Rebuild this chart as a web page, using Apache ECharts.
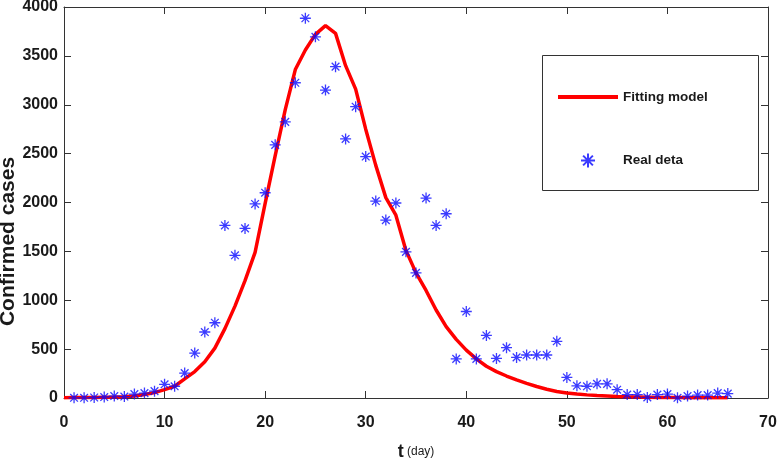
<!DOCTYPE html>
<html><head><meta charset="utf-8">
<script src="https://cdn.jsdelivr.net/npm/echarts@6/dist/echarts.min.js"></script>
<style>html,body{margin:0;padding:0;background:#fff}#c{width:777px;height:461px}</style>
</head><body><div id="c"></div>
<script>
// Fitting model, t = 0..66
const fitDays = [0,1,2,3,4,5,6,7,8,9,10,11,12,13,14,15,16,17,18,19,20,21,22,23,24,25,26,27,28,29,30,31,32,33,34,35,36,37,38,39,40,41,42,43,44,45,46,47,48,49,50,51,52,53,54,55,56,57,58,59,60,61,62,63,64,65,66];
const fitValues = [3,4,5,6,8,10,14,20,35,55,85,120,195,270,370,510,710,940,1200,1490,1990,2480,2950,3360,3560,3720,3810,3730,3400,3160,2750,2380,2050,1870,1510,1280,1100,900,730,600,490,400,325,270,225,185,150,118,90,67,52,41,32,25,20,15,12,10,8,6,5,4,3,3,2,2,2];
// Real data, t = 1..66
const realDays = [1,2,3,4,5,6,7,8,9,10,11,12,13,14,15,16,17,18,19,20,21,22,23,24,25,26,27,28,29,30,31,32,33,34,35,36,37,38,39,40,41,42,43,44,45,46,47,48,49,50,51,52,53,54,55,56,57,58,59,60,61,62,63,64,65,66];
const realValues = [2,2,5,10,20,15,40,50,70,140,120,255,460,675,770,1765,1460,1735,1985,2100,2590,2825,3225,3885,3695,3150,3390,2650,2980,2470,2015,1820,1995,1495,1280,2045,1765,1885,400,885,400,640,405,515,415,440,440,440,580,210,125,120,145,145,85,35,35,6,35,40,2,20,30,30,50,45];
const xTicks = [0,10,20,30,40,50,60,70];
const yTicks = [0,500,1000,1500,2000,2500,3000,3500,4000];

const starPath = 'path://M5,0L5,10M0,5L10,5M1.5,1.5L8.5,8.5M1.5,8.5L8.5,1.5';
const axisColor = '#333';
const labelFont = {fontFamily:'Liberation Sans Narrow, Liberation Sans, Arial', fontWeight:'bold', fontSize:16, color:'#1a1a1a'};

const chart = echarts.init(document.getElementById('c'), null, {renderer:'canvas'});
chart.setOption({
  animation:false,
  backgroundColor:'#fff',
  grid:{left:64, right:9, top:7, bottom:63, containLabel:false, outerBoundsMode:'none'},
  xAxis:[{
    type:'value', min:xTicks[0], max:xTicks[xTicks.length-1], interval:10, position:'bottom',
    axisLine:{show:true, onZero:false, lineStyle:{color:axisColor, width:1}},
    axisTick:{show:true, inside:true, length:7, lineStyle:{color:axisColor}},
    splitLine:{show:false},
    axisLabel:Object.assign({margin:17, formatter:v=>String(v)}, labelFont),
    name:'{t|t} {d|(day)}', nameLocation:'middle', nameGap:45, nameMoveOverlap:false,
    nameTextStyle:{rich:{
      t:{fontFamily:'Liberation Sans', fontWeight:'bold', fontSize:18, color:'#1a1a1a'},
      d:{fontFamily:'Liberation Sans Narrow, Liberation Sans', fontWeight:'normal', fontSize:12, color:'#1a1a1a'}
    }}
  },{
    type:'value', min:0, max:70, interval:10, position:'top',
    axisLine:{show:true, onZero:false, lineStyle:{color:axisColor, width:1}},
    axisTick:{show:true, inside:true, length:7, lineStyle:{color:axisColor}},
    axisLabel:{show:false}, splitLine:{show:false}
  }],
  yAxis:[{
    type:'value', min:yTicks[0], max:yTicks[yTicks.length-1], interval:500, position:'left',
    axisLine:{show:true, onZero:false, lineStyle:{color:axisColor, width:1}},
    axisTick:{show:true, inside:true, length:7, lineStyle:{color:axisColor}},
    splitLine:{show:false},
    axisLabel:Object.assign({margin:6, formatter:v=>String(v)}, labelFont),
    name:'Confirmed cases', nameLocation:'middle', nameGap:45, nameRotate:90, nameMoveOverlap:false,
    nameTextStyle:{fontFamily:'Liberation Sans', fontWeight:'bold', fontSize:21, color:'#1a1a1a', padding:[0,78,0,0]}
  },{
    type:'value', min:0, max:4000, interval:500, position:'right',
    axisLine:{show:true, onZero:false, lineStyle:{color:axisColor, width:1}},
    axisTick:{show:true, inside:true, length:7, lineStyle:{color:axisColor}},
    axisLabel:{show:false}, splitLine:{show:false}
  }],
  legend:{
    orient:'vertical', left:553, top:85, itemWidth:60, itemHeight:14, itemGap:47,
    data:[{name:'Fitting model', icon:'path://M0,0H60V4H0Z'},{name:'Real deta'}],
    textStyle:{fontFamily:'Liberation Sans Narrow, Liberation Sans', fontWeight:'bold', fontSize:13.5, color:'#1a1a1a'}
  },
  graphic:[{type:'rect', shape:{x:542.5, y:55.5, width:216, height:135}, style:{fill:'#fff', stroke:'#333', lineWidth:1}, z:-1}],
  series:[{
    name:'Fitting model', type:'line', xAxisIndex:0, yAxisIndex:0, symbol:'none',
    lineStyle:{color:'#ff0000', width:3.5}, itemStyle:{color:'#ff0000'},
    data:fitDays.map((d,i)=>[d, fitValues[i]]), z:2
  },{
    name:'Real deta', type:'scatter', xAxisIndex:0, yAxisIndex:0, symbol:starPath, symbolSize:11,
    itemStyle:{color:'none', borderColor:'#0a0aff', borderWidth:1.3},
    data:realDays.map((d,i)=>[d, realValues[i]]), z:3
  }]
});
</script></body></html>
